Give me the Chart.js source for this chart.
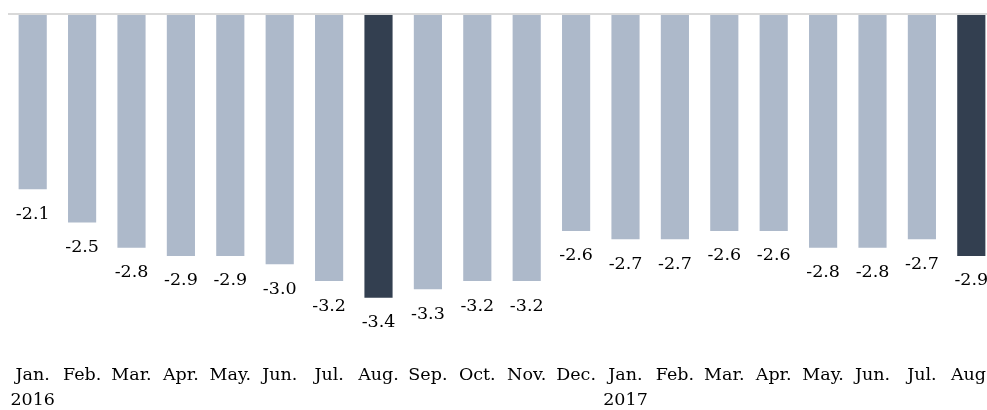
<!DOCTYPE html>
<html>
<head>
<meta charset="utf-8">
<script src="https://cdn.jsdelivr.net/npm/chart.js@4/dist/chart.umd.min.js"></script>
<style>
  html, body { margin: 0; padding: 0; background: #fff; overflow: hidden; }
  #wrap { position: relative; width: 996px; height: 416px; }
</style>
</head>
<body>
<div id="wrap"><canvas id="myChart"></canvas></div>
<script>
// monthly values, Jan 2016 - Aug 2017
const months = ["Jan.", "Feb.", "Mar.", "Apr.", "May.", "Jun.", "Jul.", "Aug.", "Sep.", "Oct.", "Nov.", "Dec.",
  "Jan.", "Feb.", "Mar.", "Apr.", "May.", "Jun.", "Jul.", "Aug."];
const years = ["2016", "", "", "", "", "", "", "", "", "", "", "",
  "2017", "", "", "", "", "", "", ""];
const values = [-2.1, -2.5, -2.8, -2.9, -2.9, -3.0, -3.2, -3.4, -3.3, -3.2, -3.2, -2.6,
  -2.7, -2.7, -2.6, -2.6, -2.8, -2.8, -2.7, -2.9];

const light = "#adb9ca";
const dark = "#333f50";
const font_family = "'DejaVu Serif', serif";

let labels = months.map(function (m, i) {
  return years[i] ? [m, years[i]] : m;
});
let colors = months.map(function (m) {
  return m === "Aug." ? dark : light;
});

// values written under each bar
const valueLabels = {
  id: "valueLabels",
  afterDatasetsDraw(chart) {
    let ctx = chart.ctx;
    let meta = chart.getDatasetMeta(0);
    ctx.save();
    ctx.font = "17.5px " + font_family;
    ctx.fillStyle = "#000";
    ctx.textAlign = "center";
    ctx.textBaseline = "alphabetic";
    meta.data.forEach(function (bar, i) {
      ctx.fillText(values[i].toFixed(1), bar.x, bar.y + 29.5);
    });
    ctx.restore();
  }
};

let ctx = document.getElementById("myChart").getContext("2d");
let myChart = new Chart(ctx, {
  type: "bar",
  data: {
    labels: labels,
    datasets: [
      {
        data: values,
        backgroundColor: colors,
        borderWidth: 0,
        barPercentage: 0.57,
        categoryPercentage: 1.0,
      },
    ],
  },
  options: {
    responsive: true,
    maintainAspectRatio: false,
    animation: false,
    layout: { padding: { top: 14, left: 8, right: 0, bottom: 0 } },
    plugins: {
      legend: { display: false },
      tooltip: { enabled: false },
    },
    scales: {
      x: {
        grid: { display: false },
        border: { display: false },
        ticks: {
          autoSkip: false,
          maxRotation: 0,
          color: "#000",
          padding: 3,
          font: { family: font_family, size: 17.5, lineHeight: 1.43 },
        },
      },
      y: {
        min: -4.05,
        max: 0,
        ticks: { display: false, stepSize: 1 },
        border: { display: false },
        grid: {
          z: 1,
          drawTicks: false,
          lineWidth: 2,
          color: function (c) {
            return c.tick && c.tick.value === 0 ? "#d9d9d9" : "rgba(0,0,0,0)";
          },
        },
      },
    },
  },
  plugins: [valueLabels],
});
</script>
</body>
</html>
